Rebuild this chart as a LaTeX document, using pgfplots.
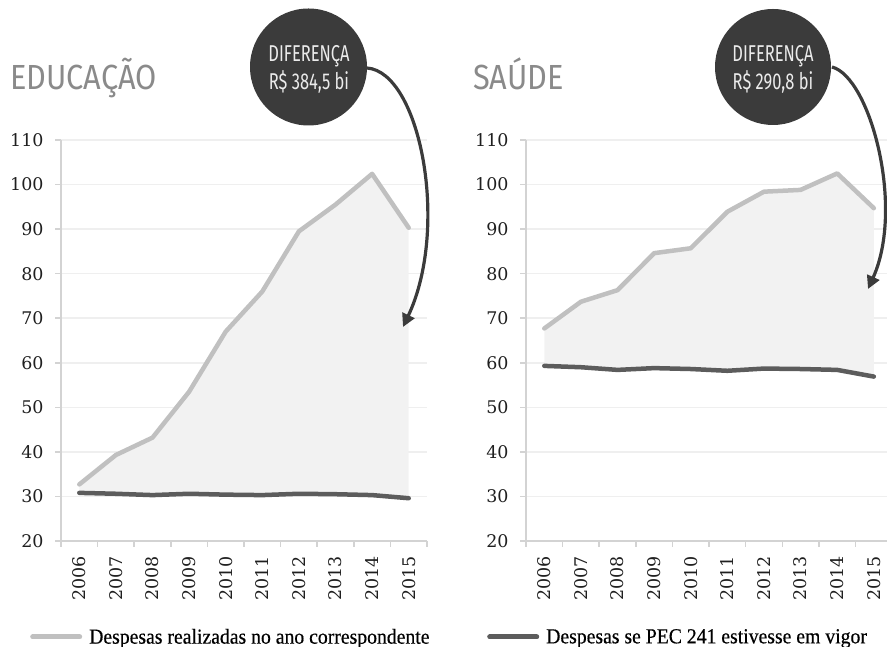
\documentclass[border=0pt]{standalone}
\usepackage{fontspec}
\setmainfont{Liberation Serif}
\newfontfamily\tickfont{DejaVu Serif}
\newfontfamily\legfont{Liberation Serif}[FakeStretch=0.92,FakeBold=0.4]
\newfontfamily\titlefont{Fira Sans}[FakeStretch=0.88]
\newfontfamily\circfont{Fira Sans}[FakeStretch=0.72]
\usepackage{pgfplots}
\pgfplotsset{compat=1.18}
\usepackage{pgfplotstable}
\usepgfplotslibrary{fillbetween}
\usetikzlibrary{arrows.meta}

\definecolor{realc}{HTML}{C0C0C0}
\definecolor{pecc}{HTML}{5C5C5C}
\definecolor{fillc}{HTML}{F2F2F2}
\definecolor{gridc}{HTML}{EFEFEF}
\definecolor{axc}{HTML}{D3D3D3}
\definecolor{circc}{HTML}{3B3B3B}
\definecolor{titc}{HTML}{8A8A8A}

\pgfplotstableread{
x real pec
0 32.7 30.8
1 39.3 30.6
2 43.2 30.3
3 53.5 30.6
4 67.0 30.4
5 76.0 30.3
6 89.5 30.6
7 95.5 30.5
8 102.4 30.3
9 90.3 29.6
}\edu

\pgfplotstableread{
x real pec
0 67.7 59.3
1 73.7 59.0
2 76.3 58.4
3 84.6 58.8
4 85.7 58.6
5 93.9 58.2
6 98.4 58.7
7 98.8 58.6
8 102.5 58.4
9 94.7 56.9
}\sau

\pgfplotsset{
  common/.style={
    scale only axis, height=401bp, xmin=-0.5, ymin=20, ymax=110,
    ytick={20,30,...,110},
    xtick={0,...,9},
    xticklabels={2006,2007,2008,2009,2010,2011,2012,2013,2014,2015},
    minor xtick={-0.5,0.5,...,9.5},
    axis x line*=bottom, axis y line*=left,
    axis line style={axc, line width=2bp},
    ymajorgrids, grid style={gridc, line width=1.5bp},
    tick style={axc, line width=1.5bp},
    major x tick style={draw=none},
    minor x tick style={axc, line width=1.5bp},
    major tick length=6bp, minor tick length=6bp, tick align=outside,
    tick label style={font=\tickfont\fontsize{17.5}{20}\selectfont, color=black!88},
    /pgf/number format/assume math mode=true,
    yticklabel style={xshift=-8bp},
    xticklabel style={yshift=-6bp, rotate=90, anchor=east},
    set layers,
    legend image code/.code={\draw[#1, line width=5bp, line cap=round] (2.5bp,0bp) -- (49.5bp,0bp);},
    legend style={draw=none, fill=none, inner sep=0pt, anchor=west,
      font=\legfont\fontsize{21.5}{23}\selectfont, cells={anchor=west},
      /tikz/every odd column/.append style={column sep=5bp}},
  },
  realst/.style={realc, line width=4.5bp, line cap=round, line join=round},
  pecst/.style={pecc, line width=4.5bp, line cap=round, line join=round},
}

\begin{document}
\begin{tikzpicture}[x=1bp,y=1bp]

\begin{axis}[common, at={(61bp,106bp)}, anchor=south west, width=366bp, xmax=9.5,
  legend style={at={(-0.0847,-0.2394)}}]
\addplot[name path=A, realst] table[x=x,y=real]{\edu};
\addlegendentry{Despesas realizadas no ano correspondente}
\addplot[name path=B, pecst, forget plot] table[x=x,y=pec]{\edu};
\addplot[fill=fillc, draw=none, forget plot] fill between[of=A and B];
\end{axis}

\begin{axis}[common, at={(526bp,106bp)}, anchor=south west, width=361bp, xmax=9.36,
  legend style={at={(-0.108,-0.2394)}}]
\addplot[name path=A, realst, forget plot] table[x=x,y=real]{\sau};
\addplot[name path=B, pecst] table[x=x,y=pec]{\sau};
\addlegendentry{Despesas se PEC 241 estivesse em vigor}
\addplot[fill=fillc, draw=none, forget plot] fill between[of=A and B];
\end{axis}

\node[anchor=base west, inner sep=0, text=titc, font=\titlefont\fontsize{35}{40}\selectfont] at (10,557) {EDUCAÇÃO};
\node[anchor=base west, inner sep=0, text=titc, font=\titlefont\fontsize{35}{40}\selectfont] at (473,557) {SAÚDE};

\fill[circc] (308.5,580) circle (58.5);
\fill[circc] (773,580) circle (58);
\node[anchor=base, inner sep=0, text=white!92!black, font=\circfont\fontsize{23}{24}\selectfont] at (309,585) {DIFERENÇA};
\node[anchor=base, inner sep=0, text=white!92!black, font=\circfont\fontsize{23}{24}\selectfont] at (309,557.7) {R\$ 384,5 bi};
\node[anchor=base, inner sep=0, text=white!92!black, font=\circfont\fontsize{23}{24}\selectfont] at (773,585) {DIFERENÇA};
\node[anchor=base, inner sep=0, text=white!92!black, font=\circfont\fontsize{23}{24}\selectfont] at (773,557.7) {R\$ 290,8 bi};

\draw[circc, line width=3.2bp, -{Triangle[length=13bp,width=13bp]}] (367,579) .. controls (420,575) and (450,420) .. (403,320);
\draw[circc, line width=3.2bp, -{Triangle[length=13bp,width=13bp]}] (832,580) .. controls (870,570) and (905,440) .. (868,358);

\pgfresetboundingbox
\path[use as bounding box] (0,0) rectangle (887,647);
\end{tikzpicture}
\end{document}
